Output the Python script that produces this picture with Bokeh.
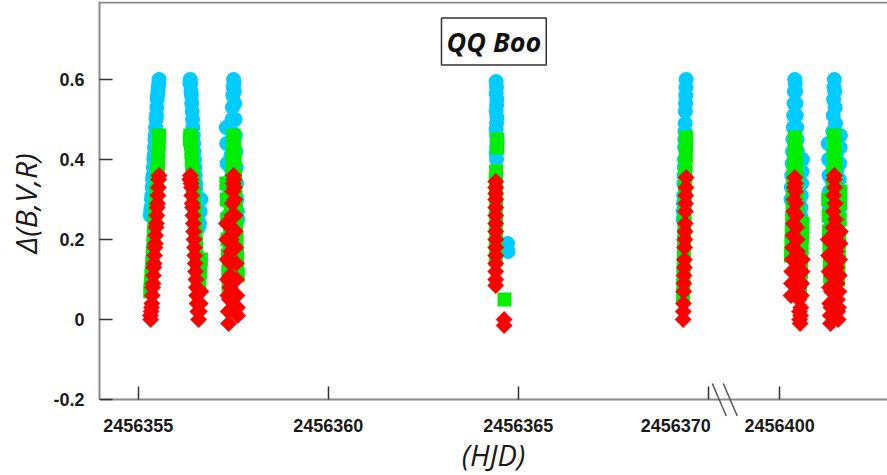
import numpy as np
from bokeh.plotting import figure
from bokeh.models import Range1d, FixedTicker, CustomJSTickFormatter, Label, Arrow, Span
from bokeh.embed import file_html
from bokeh.resources import INLINE

# ---------------- data (HJD, delta magnitude) ----------------
# night 1
n1_hjd = [2456355.32, 2456355.33, 2456355.34, 2456355.35, 2456355.36, 2456355.37, 2456355.38, 2456355.39,
          2456355.40, 2456355.41, 2456355.42, 2456355.43, 2456355.44, 2456355.45, 2456355.46, 2456355.47,
          2456355.48, 2456355.49, 2456355.50, 2456355.51, 2456355.52, 2456355.53, 2456355.54, 2456355.55]
n1_b = [0.26, 0.27, 0.28, 0.30, 0.31, 0.33, 0.35, 0.36, 0.38, 0.40, 0.41, 0.43, 0.45, 0.46, 0.48, 0.50,
        0.51, 0.53, 0.55, 0.56, 0.57, 0.58, 0.59, 0.60]
n1_v = [0.07, 0.08, 0.09, 0.11, 0.12, 0.14, 0.16, 0.17, 0.19, 0.21, 0.22, 0.24, 0.26, 0.27, 0.29, 0.31,
        0.32, 0.34, 0.36, 0.37, 0.39, 0.42, 0.44, 0.46]
n1_r = [0.01, 0.00, 0.02, 0.03, 0.04, 0.06, 0.08, 0.09, 0.11, 0.13, 0.14, 0.16, 0.18, 0.19, 0.21, 0.23,
        0.24, 0.26, 0.28, 0.29, 0.31, 0.33, 0.35, 0.36]

# night 2
n2_hjd = [2456356.36, 2456356.37, 2456356.38, 2456356.39, 2456356.40, 2456356.41, 2456356.42, 2456356.43,
          2456356.44, 2456356.45, 2456356.46, 2456356.47, 2456356.48, 2456356.49, 2456356.50, 2456356.51,
          2456356.52, 2456356.53, 2456356.54, 2456356.55, 2456356.57, 2456356.59, 2456356.61, 2456356.63,
          2456356.65]
n2_b = [0.59, 0.60, 0.59, 0.57, 0.56, 0.54, 0.52, 0.50, 0.48, 0.46, 0.44, 0.42, 0.40, 0.38, 0.36, 0.34,
        0.33, 0.31, 0.29, 0.27, 0.25, 0.23, 0.24, 0.27, 0.30]
n2_v = [0.45, 0.46, 0.45, 0.44, 0.42, 0.40, 0.39, 0.37, 0.35, 0.33, 0.31, 0.29, 0.27, 0.25, 0.23, 0.21,
        0.19, 0.17, 0.15, 0.13, 0.10, 0.08, 0.09, 0.12, 0.15]
n2_r = [0.35, 0.36, 0.35, 0.34, 0.33, 0.31, 0.29, 0.28, 0.26, 0.24, 0.22, 0.20, 0.18, 0.16, 0.14, 0.12,
        0.10, 0.08, 0.06, 0.04, 0.02, 0.00, 0.02, 0.04, 0.07]

# night 3
n3_hjd = [2456357.32, 2456357.33, 2456357.34, 2456357.35, 2456357.36, 2456357.37, 2456357.38, 2456357.39,
          2456357.40, 2456357.41, 2456357.42, 2456357.43, 2456357.44, 2456357.45, 2456357.46, 2456357.47,
          2456357.48, 2456357.49, 2456357.50, 2456357.51, 2456357.52, 2456357.53, 2456357.54, 2456357.55,
          2456357.56, 2456357.57, 2456357.58, 2456357.59, 2456357.60, 2456357.61, 2456357.62]
n3_b = [0.48, 0.44, 0.39, 0.34, 0.30, 0.26, 0.24, 0.26, 0.29, 0.32, 0.35, 0.38, 0.41, 0.44, 0.47, 0.50,
        0.53, 0.56, 0.58, 0.60, 0.59, 0.57, 0.54, 0.50, 0.46, 0.42, 0.38, 0.34, 0.30, 0.27, 0.25]
n3_v = [0.34, 0.30, 0.25, 0.20, 0.16, 0.12, 0.08, 0.12, 0.15, 0.18, 0.21, 0.24, 0.27, 0.30, 0.33, 0.36,
        0.39, 0.42, 0.44, 0.46, 0.45, 0.43, 0.40, 0.36, 0.32, 0.28, 0.24, 0.20, 0.16, 0.13, 0.11]
n3_r = [0.24, 0.20, 0.15, 0.10, 0.06, 0.02, -0.01, 0.02, 0.05, 0.08, 0.11, 0.14, 0.17, 0.20, 0.23, 0.26,
        0.29, 0.32, 0.34, 0.36, 0.35, 0.33, 0.30, 0.26, 0.22, 0.18, 0.14, 0.10, 0.06, 0.03, 0.01]

# night 4 (sparse)
n4_hjd_b = [2456364.42, 2456364.43, 2456364.42, 2456364.44, 2456364.43, 2456364.42, 2456364.44, 2456364.43,
            2456364.42, 2456364.43, 2456364.44, 2456364.43, 2456364.42, 2456364.43, 2456364.72, 2456364.73]
n4_b = [0.595, 0.58, 0.565, 0.55, 0.535, 0.52, 0.505, 0.49, 0.475, 0.46, 0.445, 0.43, 0.415, 0.40, 0.19, 0.17]
n4_hjd_v = [2456364.45, 2456364.45, 2456364.42, 2456364.41, 2456364.42, 2456364.41, 2456364.42, 2456364.41,
            2456364.42, 2456364.41, 2456364.42, 2456364.41, 2456364.42, 2456364.41, 2456364.64]
n4_v = [0.45, 0.43, 0.37, 0.35, 0.33, 0.31, 0.29, 0.27, 0.25, 0.23, 0.21, 0.19, 0.17, 0.15, 0.05]
n4_hjd_r = [2456364.41, 2456364.41, 2456364.41, 2456364.41, 2456364.41, 2456364.41, 2456364.41, 2456364.41,
            2456364.41, 2456364.41, 2456364.41, 2456364.41, 2456364.41, 2456364.41, 2456364.41,
            2456364.63, 2456364.63]
n4_r = [0.345, 0.33, 0.315, 0.30, 0.28, 0.26, 0.24, 0.22, 0.20, 0.18, 0.16, 0.14, 0.12, 0.10, 0.085,
        0.00, -0.015]

# night 5
n5_hjd = [2456369.340, 2456369.345, 2456369.350, 2456369.355, 2456369.360, 2456369.365, 2456369.370,
          2456369.375, 2456369.380, 2456369.385, 2456369.390, 2456369.395, 2456369.400, 2456369.405,
          2456369.410, 2456369.415, 2456369.420]
n5_b = [0.25, 0.27, 0.29, 0.31, 0.34, 0.36, 0.38, 0.40, 0.43, 0.45, 0.47, 0.49, 0.52, 0.54, 0.56, 0.58, 0.60]
n5_v = [0.06, 0.085, 0.11, 0.135, 0.16, 0.19, 0.21, 0.24, 0.26, 0.29, 0.31, 0.34, 0.36, 0.39, 0.41, 0.435, 0.455]
n5_r = [0.00, 0.02, 0.04, 0.07, 0.09, 0.11, 0.13, 0.15, 0.18, 0.20, 0.22, 0.24, 0.27, 0.29, 0.31, 0.33, 0.355]

# night 6
n6_hjd = [2456400.30, 2456400.31, 2456400.32, 2456400.33, 2456400.34, 2456400.35, 2456400.36, 2456400.37,
          2456400.38, 2456400.39, 2456400.40, 2456400.41, 2456400.42, 2456400.43, 2456400.44, 2456400.45,
          2456400.46, 2456400.47, 2456400.48, 2456400.49, 2456400.50, 2456400.51, 2456400.52, 2456400.53,
          2456400.54, 2456400.55, 2456400.56, 2456400.57, 2456400.58, 2456400.59, 2456400.60]
n6_b = [0.30, 0.33, 0.36, 0.39, 0.42, 0.45, 0.48, 0.51, 0.54, 0.57, 0.60, 0.59, 0.57, 0.54, 0.51, 0.48,
        0.45, 0.42, 0.39, 0.36, 0.33, 0.30, 0.27, 0.25, 0.24, 0.26, 0.28, 0.31, 0.34, 0.37, 0.40]
n6_v = [0.16, 0.19, 0.22, 0.25, 0.28, 0.31, 0.34, 0.37, 0.40, 0.43, 0.455, 0.44, 0.42, 0.39, 0.36, 0.33,
        0.30, 0.27, 0.24, 0.21, 0.18, 0.15, 0.12, 0.10, 0.08, 0.10, 0.12, 0.15, 0.18, 0.21, 0.24]
n6_r = [0.06, 0.09, 0.12, 0.15, 0.18, 0.21, 0.24, 0.27, 0.30, 0.33, 0.355, 0.34, 0.32, 0.29, 0.26, 0.23,
        0.20, 0.17, 0.14, 0.11, 0.08, 0.05, 0.02, 0.00, -0.01, 0.01, 0.03, 0.06, 0.09, 0.12, 0.15]

# night 7
n7_hjd = [2456401.28, 2456401.29, 2456401.30, 2456401.31, 2456401.32, 2456401.33, 2456401.34, 2456401.35,
          2456401.36, 2456401.37, 2456401.38, 2456401.39, 2456401.40, 2456401.41, 2456401.42, 2456401.43,
          2456401.44, 2456401.45, 2456401.46, 2456401.47, 2456401.48, 2456401.49, 2456401.50, 2456401.51,
          2456401.52, 2456401.53, 2456401.54, 2456401.55, 2456401.56, 2456401.57, 2456401.58, 2456401.59,
          2456401.60]
n7_b = [0.44, 0.40, 0.36, 0.32, 0.28, 0.25, 0.23, 0.27, 0.31, 0.35, 0.39, 0.43, 0.47, 0.51, 0.55, 0.58,
        0.60, 0.57, 0.53, 0.49, 0.45, 0.41, 0.37, 0.33, 0.29, 0.26, 0.24, 0.27, 0.31, 0.35, 0.39, 0.43, 0.46]
n7_v = [0.30, 0.26, 0.22, 0.18, 0.14, 0.11, 0.09, 0.13, 0.17, 0.21, 0.25, 0.29, 0.33, 0.37, 0.41, 0.45,
        0.46, 0.43, 0.39, 0.35, 0.31, 0.27, 0.23, 0.19, 0.15, 0.12, 0.10, 0.13, 0.17, 0.21, 0.25, 0.29, 0.32]
n7_r = [0.20, 0.16, 0.12, 0.08, 0.04, 0.01, -0.01, 0.03, 0.07, 0.11, 0.15, 0.19, 0.23, 0.27, 0.31, 0.35,
        0.36, 0.33, 0.29, 0.25, 0.21, 0.17, 0.13, 0.09, 0.05, 0.02, 0.00, 0.03, 0.07, 0.11, 0.15, 0.19, 0.22]

# axis
x_ticks_hjd = [2456355, 2456360, 2456365, 2456370, 2456400]
y_ticks = [-0.2, 0, 0.2, 0.4, 0.6]
y_tick_labels = ["-0.2", "0", "0.2", "0.4", "0.6"]
title_text = "QQ Boo"

# broken axis: gap between the two observing runs
BREAK_START = 2456370.45
BREAK_END = 2456398.57
GAP = BREAK_END - BREAK_START

FIG_W, FIG_H = 887, 475
BORDER_L, BORDER_T = 99, 1
FRAME_W = FIG_W - BORDER_L
FRAME_H = FIG_H - BORDER_T
PX_DAY, PX_VAL = 38.0, 400.0
X_START = 2456353.982
X_END = X_START + FRAME_W / PX_DAY
Y_AXIS_MIN = -0.2
Y_END = 0.795
Y_START = Y_END - FRAME_H / PX_VAL


def to_axis(h):
    return [x if x < BREAK_START else x - GAP for x in h]


b_x = to_axis(n1_hjd + n2_hjd + n3_hjd + n4_hjd_b + n5_hjd + n6_hjd + n7_hjd)
b_y = n1_b + n2_b + n3_b + n4_b + n5_b + n6_b + n7_b
v_x = to_axis(n1_hjd + n2_hjd + n3_hjd + n4_hjd_v + n5_hjd + n6_hjd + n7_hjd)
v_y = n1_v + n2_v + n3_v + n4_v + n5_v + n6_v + n7_v
r_x = to_axis(n1_hjd + n2_hjd + n3_hjd + n4_hjd_r + n5_hjd + n6_hjd + n7_hjd)
r_y = n1_r + n2_r + n3_r + n4_r + n5_r + n6_r + n7_r

p = figure(width=FIG_W, height=FIG_H, output_backend="svg", toolbar_location=None,
           x_range=Range1d(X_START, X_END), y_range=Range1d(Y_START, Y_END),
           min_border_left=BORDER_L, min_border_right=0, min_border_top=BORDER_T,
           min_border_bottom=0)
p.outline_line_color = None
p.grid.visible = False
p.background_fill_color = "white"

p.scatter(b_x, b_y, marker="circle", size=15, fill_color="#00CCFF", line_color=None)
p.scatter(v_x, v_y, marker="square", size=14, fill_color="#00EE00", line_color=None)
p.scatter(r_x, r_y, marker="square", size=11.5, angle=np.pi / 4, fill_color="#FF0000",
          line_color="#E00000", line_width=0.5)

AXIS_GREY = "#8a8a8a"
TICK_COL = "#333333"
for ax in (p.xaxis[0], p.yaxis[0]):
    ax.axis_line_color = AXIS_GREY
    ax.axis_line_width = 2
    ax.major_tick_in = 13
    ax.major_tick_out = 0
    ax.major_tick_line_color = TICK_COL
    ax.major_tick_line_width = 1.5
    ax.minor_tick_line_color = None
    ax.major_label_text_font = "Liberation Sans"
    ax.major_label_text_font_style = "bold"
    ax.major_label_text_font_size = "18px"
    ax.major_label_text_color = "#1a1a1a"
    ax.axis_label_text_font = "Open Sans"
    ax.axis_label_text_font_style = "italic"
    ax.axis_label_text_color = "#1a1a1a"

# x axis drawn at y = -0.2 so the break marks below it stay inside the frame
p.xaxis.fixed_location = Y_AXIS_MIN
p.xaxis.ticker = FixedTicker(ticks=[t if t < BREAK_START else t - GAP for t in x_ticks_hjd])
p.xaxis.formatter = CustomJSTickFormatter(
    args=dict(brk=BREAK_START, gap=GAP, shifted=2456370),
    code="""
    const h = Math.round(tick > brk ? tick + gap : tick);
    if (h === shifted) { return String(h) + "\\u00a0".repeat(13); }
    return String(h);
    """)
p.xaxis.major_label_standoff = 16
p.xaxis.axis_label = "(HJD)"
p.xaxis.axis_label_standoff = -4
p.xaxis.axis_label_text_font_size = "29px"

p.yaxis.bounds = (Y_AXIS_MIN, Y_END)
p.yaxis.ticker = FixedTicker(ticks=y_ticks)
p.yaxis.major_label_overrides = {t: s for t, s in zip(y_ticks, y_tick_labels)}
p.yaxis.major_label_standoff = 15
# leading no-break spaces keep the label centred on the -0.2..0.8 part of the axis
p.yaxis.axis_label = "\u00a0" * 9 + "\u0394(B,V,R)"
p.yaxis.axis_label_standoff = 4
p.yaxis.axis_label_text_font_size = "30px"

# top frame line
p.add_layout(Span(location=Y_END - 1 / PX_VAL, dimension="width", line_color=AXIS_GREY, line_width=2))

# break marks on the x axis
for off in (-13, -2):
    p.add_layout(Arrow(end=None, x_start=BREAK_START + off / PX_DAY, y_start=Y_AXIS_MIN + 16 / PX_VAL,
                       x_end=BREAK_START + (off + 14) / PX_DAY, y_end=Y_AXIS_MIN - 16.5 / PX_VAL,
                       line_color="#555555", line_width=1.5))

# title box
p.add_layout(Label(x=2456364.36, y=0.695, text=title_text, text_align="center", text_baseline="middle",
                   text_font="Open Sans", text_font_style="bold italic", text_font_size="27px",
                   text_color="#111111", border_line_color="#333333", border_line_width=1.5,
                   background_fill_color="white", padding=5))

open("out.html", "w").write(file_html(p, INLINE))
